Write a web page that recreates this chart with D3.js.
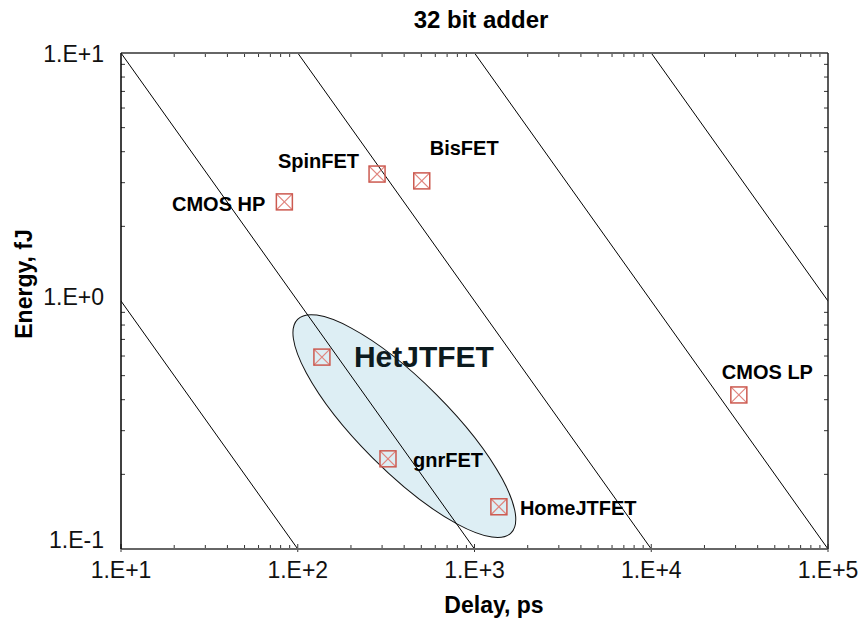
<!DOCTYPE html>
<html>
<head>
<meta charset="utf-8">
<script src="https://cdn.jsdelivr.net/npm/d3@7"></script>
<style>
  body { margin: 0; background: #fff; }
  svg { font-family: "Liberation Sans", Arial, sans-serif; }
</style>
</head>
<body>
<div id="chart"></div>
<script>
// data
var devices  = ["CMOS HP", "SpinFET", "BisFET", "HetJTFET", "gnrFET", "HomeJTFET", "CMOS LP"];
var delayPs  = [84, 281, 503, 137, 324, 1374, 31300];
var energyFJ = [2.51, 3.25, 3.05, 0.594, 0.231, 0.148, 0.418];
var edProducts = [10, 100, 1e3, 1e4, 1e5];   // lines of constant energy*delay
var xTicks = [1e1, 1e2, 1e3, 1e4, 1e5];
var yTicks = [1e-1, 1e0, 1e1];
var tickLabel = function(v){ return "1.E" + (Math.log10(v) >= 0 ? "+" : "") + Math.round(Math.log10(v)); };
var ellipseCenter = {delay: 401, energy: 0.313};

// label placement relative to marker
var labelPos = {
  "CMOS HP":   {dx: -19, dy: 9,   anchor: "end",   size: 20},
  "SpinFET":   {dx: -18, dy: -6,  anchor: "end",   size: 20},
  "BisFET":    {dx: 8,   dy: -26, anchor: "start", size: 20},
  "HetJTFET":  {dx: 32,  dy: 10,  anchor: "start", size: 30},
  "gnrFET":    {dx: 25,  dy: 8,   anchor: "start", size: 20},
  "HomeJTFET": {dx: 21,  dy: 8,   anchor: "start", size: 20},
  "CMOS LP":   {dx: -17, dy: -16, anchor: "start", size: 20}
};

var W = 858, H = 619;
var m = {left: 121, right: 828, top: 53, bottom: 549};

var svg = d3.select("#chart").append("svg")
  .attr("width", W).attr("height", H);

var x = d3.scaleLog().domain([10, 1e5]).range([m.left, m.right]);
var y = d3.scaleLog().domain([0.1, 10]).range([m.bottom, m.top]);

svg.append("clipPath").attr("id", "plotclip")
  .append("rect")
  .attr("x", m.left).attr("y", m.top)
  .attr("width", m.right - m.left).attr("height", m.bottom - m.top);

var plot = svg.append("g").attr("clip-path", "url(#plotclip)");

// ellipse around the JTFET/gnrFET group
plot.append("ellipse")
  .attr("cx", 0).attr("cy", 0)
  .attr("rx", 151).attr("ry", 45)
  .attr("transform", "translate(" + x(ellipseCenter.delay) + "," + y(ellipseCenter.energy) + ") rotate(45)")
  .attr("fill", "#ddeef4")
  .attr("stroke", "#111")
  .attr("stroke-width", 1);

// constant E*D lines
plot.selectAll(".edline")
  .data(edProducts)
  .enter().append("line")
  .attr("class", "edline")
  .attr("x1", function(k){ return x(1); })
  .attr("y1", function(k){ return y(k / 1); })
  .attr("x2", function(k){ return x(1e7); })
  .attr("y2", function(k){ return y(k / 1e7); })
  .attr("stroke", "#000")
  .attr("stroke-width", 1);

// ticks
var minorOf = function(domain){
  var out = [];
  for (var e = Math.log10(domain[0]); e < Math.log10(domain[1]); e++) {
    for (var k = 2; k <= 9; k++) out.push(k * Math.pow(10, e));
  }
  return out;
};
var xMinor = minorOf(x.domain());
var yMinor = minorOf(y.domain());

var tickG = svg.append("g").attr("stroke", "#333").attr("stroke-width", 1);
xMinor.forEach(function(v){
  tickG.append("line").attr("x1", x(v)).attr("x2", x(v)).attr("y1", m.bottom).attr("y2", m.bottom - 4);
  tickG.append("line").attr("x1", x(v)).attr("x2", x(v)).attr("y1", m.top).attr("y2", m.top + 4);
});
yMinor.forEach(function(v){
  tickG.append("line").attr("y1", y(v)).attr("y2", y(v)).attr("x1", m.left).attr("x2", m.left + 4);
  tickG.append("line").attr("y1", y(v)).attr("y2", y(v)).attr("x1", m.right).attr("x2", m.right - 4);
});
xTicks.forEach(function(v){
  tickG.append("line").attr("x1", x(v)).attr("x2", x(v)).attr("y1", m.bottom + 3).attr("y2", m.bottom - 5);
});

// frame
var frame = svg.append("g");
frame.append("line").attr("x1", m.left).attr("x2", m.right).attr("y1", m.top).attr("y2", m.top)
  .attr("stroke", "#666").attr("stroke-width", 2);
frame.append("line").attr("x1", m.left).attr("x2", m.right).attr("y1", m.bottom).attr("y2", m.bottom)
  .attr("stroke", "#666").attr("stroke-width", 2);
frame.append("line").attr("x1", m.left).attr("x2", m.left).attr("y1", m.top).attr("y2", m.bottom)
  .attr("stroke", "#000").attr("stroke-width", 1.5);
frame.append("line").attr("x1", m.right).attr("x2", m.right).attr("y1", m.top).attr("y2", m.bottom)
  .attr("stroke", "#222").attr("stroke-width", 1.5);

// tick labels
svg.selectAll(".xlab").data(xTicks).enter().append("text")
  .attr("class", "xlab")
  .attr("x", function(d){ return x(d); })
  .attr("y", m.bottom + 29)
  .attr("text-anchor", "middle")
  .attr("font-size", 23)
  .attr("fill", "#111")
  .text(tickLabel);

svg.selectAll(".ylab").data(yTicks).enter().append("text")
  .attr("class", "ylab")
  .attr("x", m.left - 17)
  .attr("y", function(d){ return y(d) + (d < 0.5 ? -1 : (d > 5 ? 9 : 4)); })
  .attr("text-anchor", "end")
  .attr("font-size", 23)
  .attr("fill", "#111")
  .text(tickLabel);

// markers
var msize = 16;
var mk = svg.selectAll(".marker")
  .data(devices)
  .enter().append("g")
  .attr("class", "marker")
  .attr("transform", function(d, i){ return "translate(" + x(delayPs[i]) + "," + y(energyFJ[i]) + ")"; });
mk.append("line").attr("x1", -msize/2).attr("y1", -msize/2).attr("x2", msize/2).attr("y2", msize/2)
  .attr("stroke", "#e0847d").attr("stroke-width", 1.2);
mk.append("line").attr("x1", msize/2).attr("y1", -msize/2).attr("x2", -msize/2).attr("y2", msize/2)
  .attr("stroke", "#e0847d").attr("stroke-width", 1.2);
mk.append("rect").attr("x", -msize/2).attr("y", -msize/2).attr("width", msize).attr("height", msize)
  .attr("fill", "none").attr("stroke", "#cc5a50").attr("stroke-width", 1.5);

// device labels
svg.selectAll(".dlab")
  .data(devices)
  .enter().append("text")
  .attr("class", "dlab")
  .attr("x", function(d, i){ return x(delayPs[i]) + labelPos[d].dx; })
  .attr("y", function(d, i){ return y(energyFJ[i]) + labelPos[d].dy; })
  .attr("text-anchor", function(d){ return labelPos[d].anchor; })
  .attr("font-size", function(d){ return labelPos[d].size; })
  .attr("font-weight", "bold")
  .attr("fill", function(d){ return d === "HetJTFET" ? "#0c1a1e" : "#000"; })
  .text(function(d){ return d; });

// titles
svg.append("text")
  .attr("x", 481).attr("y", 28)
  .attr("text-anchor", "middle")
  .attr("font-size", 24).attr("font-weight", "bold")
  .text("32 bit adder");

svg.append("text")
  .attr("x", 494).attr("y", 613)
  .attr("text-anchor", "middle")
  .attr("font-size", 23).attr("font-weight", "bold")
  .text("Delay, ps");

svg.append("text")
  .attr("transform", "translate(32,284) rotate(-90)")
  .attr("text-anchor", "middle")
  .attr("font-size", 23).attr("font-weight", "bold")
  .text("Energy, fJ");
</script>
</body>
</html>
